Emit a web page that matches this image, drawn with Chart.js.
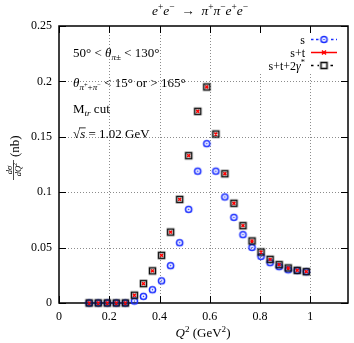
<!DOCTYPE html>
<html><head><meta charset="utf-8">
<script src="https://cdn.jsdelivr.net/npm/chart.js@4.4.1/dist/chart.umd.min.js"></script>
<style>html,body{margin:0;padding:0;background:#fff}</style>
</head><body>
<canvas id="c" width="354" height="343"></canvas>
<script>
const q2 = [0.12,0.156,0.192,0.228,0.264,0.30,0.336,0.372,0.408,0.444,0.48,0.516,0.552,0.588,0.624,0.66,0.696,0.732,0.768,0.804,0.84,0.876,0.912,0.948,0.984];
const sigmaS = [0,0,0,0,0,0.0018,0.006,0.012,0.020,0.0337,0.0544,0.0845,0.119,0.1438,0.119,0.0957,0.0773,0.0617,0.0502,0.0421,0.0364,0.0328,0.0300,0.0293,0.0283];
const sigmaST = [0,0,0,0,0,0.007,0.0175,0.029,0.043,0.064,0.0935,0.133,0.173,0.195,0.1525,0.1167,0.090,0.0698,0.056,0.046,0.0394,0.0346,0.0316,0.0295,0.0283];
const sigmaSTG = [0,0,0,0,0,0.007,0.0175,0.029,0.043,0.064,0.0935,0.133,0.173,0.195,0.1525,0.1167,0.090,0.0698,0.056,0.046,0.0394,0.0346,0.0316,0.0295,0.0283];
const seriesLabels = ['s','s+t','s+t+2γ*'];
const xTicks = [0,0.2,0.4,0.6,0.8,1];
const yTicks = [0,0.05,0.1,0.15,0.2,0.25];

const FAM = '"Liberation Serif","DejaVu Serif",serif';
const BLUE = 'rgb(25,45,255)';
const RED = 'rgb(255,0,0)';

function mk(w,h,fn){const c=document.createElement('canvas');c.width=w;c.height=h;fn(c.getContext('2d'));return c;}
const blueImg = mk(11,11,g=>{g.strokeStyle=BLUE;g.lineWidth=1.5;g.beginPath();g.arc(5.5,5.5,3.1,0,Math.PI*2);g.stroke();g.fillStyle=BLUE;g.beginPath();g.arc(5.5,5.5,0.8,0,Math.PI*2);g.fill();});
const sqImg = mk(11,11,g=>{g.strokeStyle='rgba(0,0,0,0.3)';g.lineWidth=2.2;g.strokeRect(2.5,2.5,6,6);g.strokeStyle='#111';g.lineWidth=1.3;g.strokeRect(2.5,2.5,6,6);});

const R=t=>({t,sz:1,dy:0,it:false});
const I=t=>({t,sz:1,dy:0,it:true});
const Sp=(t,it)=>({t,sz:0.7,dy:-0.38,it:!!it});
const Sb=(t,it)=>({t,sz:0.7,dy:0.22,it:!!it});
const SbSp=t=>({t,sz:0.5,dy:0.0,it:false});
function rich(ctx,parts,x,y,size,align){
  let w=0;const ws=[];
  parts.forEach(p=>{ctx.font=(p.it?'italic ':'')+(size*p.sz).toFixed(1)+'px '+FAM;const m=ctx.measureText(p.t).width;ws.push(m);w+=m;});
  let cx = align==='center'?x-w/2:(align==='right'?x-w:x);
  ctx.textAlign='left';ctx.textBaseline='alphabetic';
  parts.forEach((p,i)=>{ctx.font=(p.it?'italic ':'')+(size*p.sz).toFixed(1)+'px '+FAM;ctx.fillText(p.t,cx,y+p.dy*size);
    if(p.ov){ctx.save();ctx.lineWidth=0.8;ctx.beginPath();ctx.moveTo(cx-1,y-size*0.78);ctx.lineTo(cx+ws[i]+0.5,y-size*0.78);ctx.stroke();ctx.restore();}
    cx+=ws[i];});
  return w;
}

const deco = {
  id:'deco',
  beforeDatasetsDraw(chart){
    const {ctx,chartArea:a,scales:{x,y}}=chart;
    ctx.save();
    ctx.strokeStyle='#8c8c8c';ctx.lineWidth=1;ctx.setLineDash([1,2]);
    xTicks.forEach(v=>{if(v<=0)return;const p=Math.round(x.getPixelForValue(v))+0.5;ctx.beginPath();ctx.moveTo(p,a.top);ctx.lineTo(p,a.bottom);ctx.stroke();});
    yTicks.forEach(v=>{if(v<=0||v>=0.25)return;const p=Math.round(y.getPixelForValue(v))+0.5;ctx.beginPath();ctx.moveTo(a.left,p);ctx.lineTo(a.right,p);ctx.stroke();});
    ctx.setLineDash([]);
    ctx.fillStyle='#fff';ctx.fillRect(252,a.top+1,a.right-253,46);
    ctx.strokeStyle='#000';ctx.lineWidth=1.5;
    ctx.strokeRect(a.left,a.top,a.width,a.height);
    ctx.lineWidth=1;
    const tl=7;
    xTicks.forEach(v=>{const p=Math.round(x.getPixelForValue(v))+0.5;ctx.beginPath();ctx.moveTo(p,a.bottom);ctx.lineTo(p,a.bottom-tl);ctx.moveTo(p,a.top);ctx.lineTo(p,a.top+tl);ctx.stroke();});
    yTicks.forEach(v=>{const p=Math.round(y.getPixelForValue(v))+0.5;ctx.beginPath();ctx.moveTo(a.left,p);ctx.lineTo(a.left+tl,p);ctx.moveTo(a.right,p);ctx.lineTo(a.right-tl,p);ctx.stroke();});
    ctx.restore();
  },
  afterDraw(chart){
    const {ctx}=chart;
    ctx.save();ctx.fillStyle='#000';ctx.strokeStyle='#000';
    rich(ctx,[I('e'),Sp('+'),I('e'),Sp('−'),R('  →  '),I('π'),Sp('+'),I('π'),Sp('−'),I('e'),Sp('+'),I('e'),Sp('−')],200,15,13.5,'center');
    rich(ctx,[R('50° < '),I('θ'),Sb('π±',true),R(' < 130°')],73,57,13,'left');
    rich(ctx,[I('θ'),Sb('π',true),SbSp('+'),Sb('+'),Sb('π',true),SbSp('−'),R(' < 15° or > 165°')],73,87,13,'left');
    rich(ctx,[R('M'),Sb('tr',true),R(' cut')],73,113,13,'left');
    const s4=[R('√'),I('s'),R(' = 1.02 GeV')];s4[1].ov=true;
    rich(ctx,s4,73,138,13,'left');
    const ly=[39.5,52.5,65.5];
    seriesLabels.forEach((lab,i)=>{
      let parts;
      if(i===2) parts=[R('s+t+2'),I('γ'),Sp('*')]; else parts=[R(lab)];
      rich(ctx,parts,305,ly[i]+4,12,'right');
    });
    ctx.lineWidth=1.5;
    ctx.strokeStyle=BLUE;ctx.setLineDash([2.5,2.5]);ctx.beginPath();ctx.moveTo(311,ly[0]);ctx.lineTo(337,ly[0]);ctx.stroke();
    ctx.strokeStyle=RED;ctx.setLineDash([]);ctx.beginPath();ctx.moveTo(311,ly[1]);ctx.lineTo(337,ly[1]);ctx.stroke();
    ctx.strokeStyle='#000';ctx.setLineDash([2.5,4]);ctx.beginPath();ctx.moveTo(311,ly[2]);ctx.lineTo(337,ly[2]);ctx.stroke();
    ctx.setLineDash([]);
    ctx.fillStyle='#fff';ctx.fillRect(320,ly[0]-4,9,8);ctx.fillRect(319,ly[2]-5,11,10);
    ctx.drawImage(blueImg,324-5.5,ly[0]-5.5);
    ctx.strokeStyle=RED;ctx.lineWidth=1.5;ctx.beginPath();ctx.moveTo(322,ly[1]-2);ctx.lineTo(326,ly[1]+2);ctx.moveTo(326,ly[1]-2);ctx.lineTo(322,ly[1]+2);ctx.stroke();
    ctx.drawImage(sqImg,324-5.5,ly[2]-5.5);
    ctx.fillStyle='#000';
    rich(ctx,[I('Q'),Sp('2'),R(' (GeV'),Sp('2'),R(')')],203,337,13,'center');
    ctx.translate(14,158);ctx.rotate(-Math.PI/2);
    ctx.textAlign='center';ctx.textBaseline='alphabetic';
    ctx.font='italic 8.5px '+FAM;ctx.fillText('dσ',-12,-2.5);
    ctx.fillText('dQ',-13,6.5);ctx.font='6px '+FAM;ctx.fillText('2',-6.5,3);
    ctx.lineWidth=0.7;ctx.strokeStyle='#000';ctx.beginPath();ctx.moveTo(-22,-0.5);ctx.lineTo(-2,-0.5);ctx.stroke();
    ctx.textAlign='left';ctx.font='13px '+FAM;ctx.fillText('(nb)',1,4.5);
    ctx.restore();
  }
};

const tickFont={family:FAM,size:12};
const fmt=v=>String(+(+v).toFixed(3));
new Chart(document.getElementById('c'),{
  type:'scatter',
  data:{datasets:[
    {label:seriesLabels[0],data:q2.map((v,i)=>({x:v,y:sigmaS[i]})),pointStyle:blueImg,order:3,clip:false},
    {label:seriesLabels[1],data:q2.map((v,i)=>({x:v,y:sigmaST[i]})),pointStyle:'crossRot',pointRadius:2,borderColor:RED,backgroundColor:RED,pointBorderWidth:1.5,order:2,clip:false},
    {label:seriesLabels[2],data:q2.map((v,i)=>({x:v,y:sigmaSTG[i]})),pointStyle:sqImg,order:1,clip:false}
  ]},
  options:{
    responsive:false,animation:false,devicePixelRatio:1,
    layout:{padding:{top:26,right:6,left:0,bottom:0}},
    plugins:{legend:{display:false},tooltip:{enabled:false}},
    scales:{
      x:{type:'linear',min:0,max:1.15,afterFit(s){s.height=40;},afterBuildTicks(s){s.ticks=xTicks.map(v=>({value:v}));},
         grid:{display:false,drawTicks:false},border:{display:false},ticks:{padding:7,font:tickFont,color:'#000',maxRotation:0,autoSkip:false,callback:fmt}},
      y:{type:'linear',min:0,max:0.25,afterFit(s){s.width=59;},afterBuildTicks(s){s.ticks=yTicks.map(v=>({value:v}));},
         grid:{display:false,drawTicks:false},border:{display:false},ticks:{padding:7,font:tickFont,color:'#000',autoSkip:false,callback:fmt}}
    }
  },
  plugins:[deco]
});
</script>
</body></html>
